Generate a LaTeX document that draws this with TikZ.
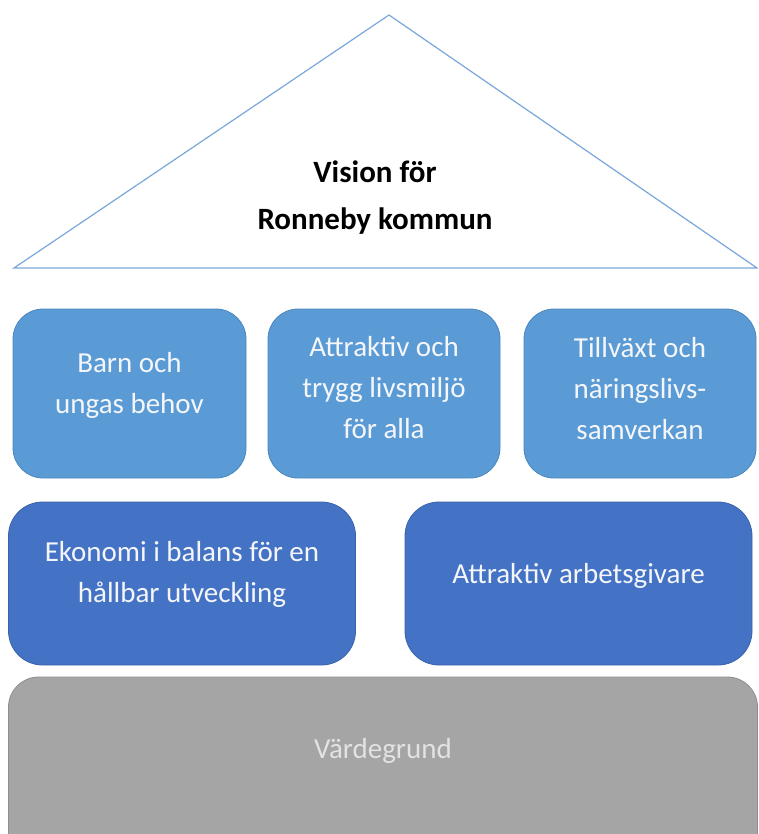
\documentclass[tikz,border=0pt]{standalone}
\usepackage{fontspec}
\setmainfont{Carlito}
\definecolor{lblue}{HTML}{5B9BD5}
\definecolor{lblueedge}{HTML}{4A86BE}
\definecolor{dblue}{HTML}{4472C4}
\definecolor{dblueedge}{HTML}{3A62AA}
\definecolor{gbox}{HTML}{A5A5A5}
\definecolor{gedge}{HTML}{8F8F8F}
\definecolor{triline}{HTML}{7AA7DA}
\definecolor{boxtext}{HTML}{F4F6FA}
\definecolor{graytext}{HTML}{E2E2E2}
\tikzset{
  rowone/.style={draw=lblueedge, fill=lblue, line width=0.8pt, rounded corners=30pt, inner sep=0pt},
  rowtwo/.style={draw=dblueedge, fill=dblue, line width=0.8pt, rounded corners=34pt, inner sep=0pt},
  basebox/.style={draw=gedge, fill=gbox, line width=0.8pt, rounded corners=30pt, inner sep=0pt},
  boxlabel/.style={text=boxtext, align=center, inner sep=0pt, font=\fontsize{29}{41}\selectfont},
  baselabel/.style={text=graytext, align=center, inner sep=0pt, font=\fontsize{29}{41}\selectfont},
  titlelabel/.style={text=black, align=center, inner sep=0pt, font=\fontsize{31}{47}\selectfont\bfseries},
}
\begin{document}
\begin{tikzpicture}[x=1pt,y=-1pt]
\useasboundingbox (0,0) rectangle (758,834);
\clip (0,0) rectangle (758,834);
% roof
\coordinate (apex) at (389,15);
\coordinate (bl) at (14,268);
\coordinate (br) at (757,268);
\draw[triline, line width=1.2pt, line join=miter] (apex) -- (br) -- (bl) -- cycle;
\node[titlelabel] (vision) at (375,197) {\strut Vision för\\\strut Ronneby kommun};
% first row
\node[rowone, minimum width=233pt, minimum height=169pt] (barn) at (129.5,393.5) {};
\node[boxlabel] (barnt) at (barn.center |- 0,384.8) {\strut Barn och\\\strut ungas behov};
\node[rowone, minimum width=232pt, minimum height=169pt] (livs) at (384,393.5) {};
\node[boxlabel] (livst) at (livs.center |- 0,389) {\strut Attraktiv och\\\strut trygg livsmiljö\\\strut för alla};
\node[rowone, minimum width=232pt, minimum height=169pt] (tillv) at (640,393.5) {};
\node[boxlabel] (tillvt) at (tillv.center |- 0,390) {\strut Tillväxt och\\\strut näringslivs-\\\strut samverkan};
% second row
\node[rowtwo, minimum width=347pt, minimum height=163pt] (eko) at (182,583.5) {};
\node[boxlabel] (ekot) at (eko.center |- 0,574) {\strut Ekonomi i balans för en\\\strut hållbar utveckling};
\node[rowtwo, minimum width=347pt, minimum height=163pt] (arb) at (578.5,583.5) {};
\node[boxlabel] (arbt) at (arb.center |- 0,575) {\strut Attraktiv arbetsgivare};
% base
\node[basebox, minimum width=749pt, minimum height=200pt] (varde) at (383,777) {};
\node[baselabel] (vardet) at (383,750) {\strut Värdegrund};
\end{tikzpicture}
\end{document}
